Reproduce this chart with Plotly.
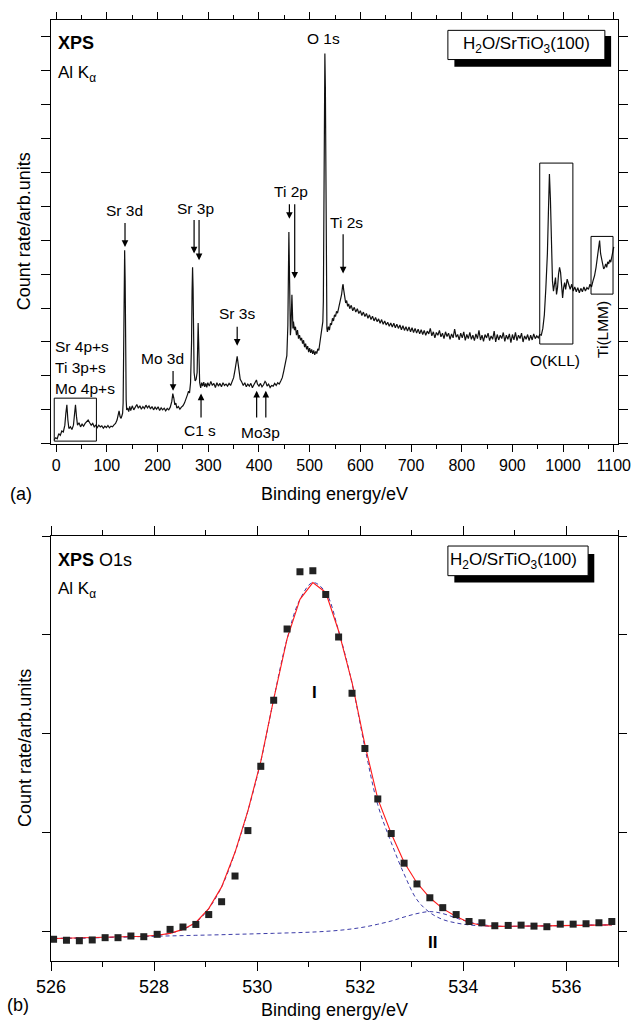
import plotly.graph_objects as go

# ---------------- Panel (a): XPS survey spectrum ----------------
energy_a = [
    -4, -1, 2, 5, 8, 11, 14, 17, 19, 21,
    23, 25, 28, 31, 34, 36, 38, 40, 42, 45,
    48, 51, 54, 57, 60, 63, 66, 69, 72, 75,
    78, 81, 84, 87, 90, 93, 96, 99, 102, 105,
    108, 111, 114, 117, 120, 122, 124, 126, 128, 130,
    131, 132, 133, 134, 135, 136, 137, 138, 139, 141,
    143, 145, 147, 150, 153, 156, 159, 162, 165, 168,
    171, 174, 177, 180, 183, 186, 189, 192, 195, 198,
    201, 204, 207, 210, 213, 216, 219, 222, 225, 228,
    230, 232, 234, 236, 238, 241, 244, 247, 250, 253,
    256, 259, 261, 263, 265, 267, 268, 269, 270, 271,
    272, 274, 276, 278, 279, 280, 281, 282, 283, 285,
    287, 289, 291, 293, 295, 297, 299, 302, 305, 308,
    311, 314, 317, 320, 323, 326, 329, 332, 335, 338,
    341, 344, 347, 350, 353, 355, 357, 359, 361, 363,
    366, 369, 372, 375, 378, 381, 384, 387, 390, 393,
    395, 397, 400, 403, 406, 409, 412, 414, 416, 419,
    422, 425, 428, 431, 434, 437, 440, 443, 446, 449,
    452, 455, 457, 458, 459, 460, 461, 462, 463, 464,
    465, 466, 467, 468, 470, 472, 474, 476, 478, 480,
    482, 484, 486, 488, 490, 492, 494, 496, 498, 500,
    502, 504, 506, 508, 510, 512, 514, 516, 518, 520,
    522, 524, 526, 527, 528, 529, 530, 531, 532, 533,
    534, 535, 537, 539, 541, 543, 545, 547, 549, 551,
    553, 555, 557, 559, 561, 563, 565, 566, 567, 569,
    571, 573, 575, 577, 579, 582, 585, 588, 591, 594,
    597, 600, 603, 606, 609, 612, 615, 618, 621, 624,
    627, 630, 633, 636, 639, 642, 645, 648, 651, 654,
    657, 660, 663, 666, 669, 672, 675, 678, 681, 684,
    687, 690, 693, 696, 699, 702, 705, 708, 711, 714,
    717, 720, 723, 726, 729, 732, 735, 738, 741, 744,
    747, 750, 753, 756, 759, 762, 765, 768, 771, 774,
    777, 780, 783, 786, 789, 792, 795, 798, 801, 804,
    807, 810, 813, 816, 819, 822, 825, 828, 831, 834,
    837, 840, 843, 846, 849, 852, 855, 858, 861, 864,
    867, 870, 873, 876, 879, 882, 885, 888, 891, 894,
    897, 900, 903, 906, 909, 912, 915, 918, 921, 924,
    927, 930, 933, 936, 939, 942, 945, 948, 951, 954,
    957, 960, 963, 966, 969, 971, 973, 975, 977, 979,
    981, 983, 985, 987, 989, 991, 993, 995, 997, 999,
    1001, 1003, 1005, 1008, 1011, 1014, 1017, 1020, 1023, 1026,
    1029, 1032, 1035, 1038, 1041, 1044, 1047, 1050, 1053, 1056,
    1059, 1062, 1065, 1068, 1070, 1072, 1074, 1076, 1078, 1080,
    1082, 1084, 1086, 1088, 1090, 1092, 1094, 1096, 1098, 1100,
]
count_a = [
    0.12, 0.18, 0.15, 0.30, 0.25, 0.38, 0.35, 0.55, 0.90, 1.15,
    0.70, 0.45, 0.50, 0.42, 0.55, 0.85, 1.15, 0.80, 0.55, 0.62,
    0.50, 0.58, 0.52, 0.60, 0.65, 0.70, 0.62, 0.55, 0.60, 0.50,
    0.55, 0.48, 0.55, 0.50, 0.53, 0.46, 0.52, 0.48, 0.54, 0.47,
    0.52, 0.50, 0.56, 0.60, 0.70, 0.85, 0.97, 0.80, 0.75, 0.85,
    0.90, 1.20, 2.50, 4.50, 5.70, 4.80, 2.20, 1.30, 1.00, 1.05,
    0.95, 1.10, 0.98, 1.12, 1.00, 1.08, 1.16, 1.05, 1.12, 1.02,
    1.10, 1.04, 1.14, 1.06, 1.12, 1.03, 1.10, 1.00, 1.08, 1.02,
    1.09, 0.98, 1.06, 1.00, 1.05, 0.97, 1.04, 1.00, 1.08, 1.25,
    1.48, 1.35, 1.15, 1.20, 1.05, 1.10, 1.02, 1.08, 1.12, 1.20,
    1.30, 1.45, 1.55, 1.50, 1.80, 3.00, 4.50, 5.20, 4.60, 3.00,
    2.10, 1.85, 1.90, 2.10, 3.00, 3.56, 3.00, 2.20, 1.80, 1.65,
    1.80, 1.70, 1.82, 1.68, 1.78, 1.66, 1.80, 1.70, 1.84, 1.72,
    1.78, 1.66, 1.80, 1.70, 1.78, 1.68, 1.80, 1.72, 1.76, 1.70,
    1.78, 1.72, 1.85, 1.95, 2.20, 2.45, 2.58, 2.35, 2.05, 1.90,
    1.82, 1.72, 1.80, 1.68, 1.76, 1.70, 1.78, 1.65, 1.74, 1.82,
    1.88, 1.76, 1.70, 1.78, 1.68, 1.74, 1.84, 1.80, 1.70, 1.76,
    1.66, 1.72, 1.70, 1.78, 1.72, 1.80, 1.76, 1.85, 1.95, 2.15,
    2.35, 2.60, 3.50, 5.50, 6.24, 5.20, 3.60, 3.20, 3.40, 4.00,
    4.39, 3.90, 3.40, 3.60, 3.35, 3.45, 3.20, 3.35, 3.10, 3.20,
    3.05, 3.12, 2.95, 3.05, 2.85, 2.95, 2.78, 2.88, 2.70, 2.82,
    2.68, 2.78, 2.65, 2.75, 2.62, 2.72, 2.66, 2.80, 2.75, 2.95,
    3.10, 3.30, 3.60, 4.20, 6.00, 9.50, 11.50, 10.50, 6.50, 4.20,
    3.40, 3.30, 3.45, 3.35, 3.55, 3.50, 3.70, 3.62, 3.80, 3.75,
    3.90, 3.85, 3.98, 4.05, 4.20, 4.40, 4.65, 4.70, 4.55, 4.35,
    4.15, 4.22, 4.05, 4.12, 3.98, 4.08, 3.92, 4.02, 3.88, 3.98,
    3.84, 3.92, 3.78, 3.88, 3.75, 3.84, 3.70, 3.80, 3.66, 3.76,
    3.62, 3.72, 3.60, 3.68, 3.55, 3.66, 3.52, 3.62, 3.50, 3.58,
    3.46, 3.56, 3.44, 3.55, 3.42, 3.52, 3.40, 3.50, 3.36, 3.48,
    3.34, 3.45, 3.32, 3.44, 3.30, 3.42, 3.28, 3.40, 3.26, 3.38,
    3.24, 3.36, 3.22, 3.34, 3.20, 3.32, 3.24, 3.40, 3.18, 3.30,
    3.12, 3.28, 3.20, 3.34, 3.15, 3.26, 3.10, 3.30, 3.16, 3.26,
    3.08, 3.24, 3.12, 3.38, 3.14, 3.22, 3.06, 3.26, 3.12, 3.30,
    3.05, 3.22, 3.10, 3.28, 3.08, 3.20, 3.04, 3.24, 3.10, 3.34,
    3.06, 3.20, 3.02, 3.22, 3.12, 3.26, 3.04, 3.18, 3.08, 3.32,
    3.00, 3.22, 3.06, 3.20, 3.10, 3.28, 3.02, 3.20, 3.08, 3.24,
    2.98, 3.22, 3.06, 3.28, 3.04, 3.20, 3.10, 3.26, 3.00, 3.18,
    3.08, 3.22, 3.04, 3.20, 3.06, 3.24, 3.10, 3.18, 3.12, 3.22,
    3.20, 3.40, 3.80, 4.60, 5.60, 6.80, 7.95, 7.20, 5.50, 4.80,
    4.50, 4.65, 4.90, 4.40, 4.60, 5.00, 5.20, 5.05, 4.70, 4.30,
    4.60, 4.75, 4.55, 4.85, 4.70, 4.55, 4.70, 4.50, 4.62, 4.48,
    4.60, 4.45, 4.58, 4.48, 4.62, 4.50, 4.60, 4.55, 4.70, 4.62,
    4.80, 4.95, 5.20, 5.50, 5.80, 5.99, 5.60, 5.40, 5.30, 5.15,
    5.20, 5.30, 5.20, 5.36, 5.30, 5.42, 5.35, 5.55, 5.65, 5.80,
]
xticks_a = [0, 100, 200, 300, 400, 500, 600, 700, 800, 900, 1000, 1100]

# ---------------- Panel (b): O1s detail ----------------
energy_b = [
    526.05, 526.30, 526.55, 526.80, 527.05, 527.30, 527.55, 527.80, 528.06, 528.31,
    528.56, 528.81, 529.06, 529.31, 529.57, 529.82, 530.07, 530.32, 530.58, 530.83,
    531.08, 531.33, 531.58, 531.84, 532.09, 532.34, 532.60, 532.85, 533.10, 533.35,
    533.60, 533.86, 534.11, 534.36, 534.61, 534.87, 535.12, 535.37, 535.62, 535.88,
    536.13, 536.38, 536.63, 536.88,
]
count_b = [
    -0.080, -0.090, -0.095, -0.087, -0.064, -0.064, -0.047, -0.054, -0.030, 0.020,
    0.044, 0.070, 0.170, 0.300, 0.560, 1.020, 1.670, 2.340, 3.060, 3.640,
    3.650, 3.410, 2.980, 2.410, 1.850, 1.340, 0.990, 0.690, 0.480, 0.340,
    0.240, 0.170, 0.100, 0.087, 0.057, 0.060, 0.063, 0.053, 0.047, 0.073,
    0.073, 0.077, 0.087, 0.100,
]
fit_b = [
    -0.073, -0.070, -0.068, -0.065, -0.062, -0.058, -0.055, -0.050, -0.040, -0.020,
    0.020, 0.090, 0.230, 0.450, 0.800, 1.220, 1.720, 2.350, 2.960, 3.360,
    3.530, 3.430, 3.040, 2.520, 1.890, 1.340, 0.990, 0.700, 0.490, 0.340,
    0.230, 0.150, 0.090, 0.060, 0.050, 0.050, 0.052, 0.054, 0.056, 0.058,
    0.060, 0.062, 0.064, 0.066,
]
peak1_b = [
    -0.073, -0.070, -0.068, -0.065, -0.062, -0.058, -0.055, -0.050, -0.040, -0.020,
    0.020, 0.090, 0.230, 0.450, 0.800, 1.220, 1.720, 2.350, 2.960, 3.360,
    3.530, 3.430, 3.040, 2.510, 1.860, 1.280, 0.900, 0.580, 0.320, 0.190,
    0.120, 0.085, 0.065, 0.056, 0.050, 0.050, 0.052, 0.054, 0.056, 0.058,
    0.060, 0.062, 0.064, 0.066,
]
peak2_b = [
    -0.073, -0.070, -0.068, -0.065, -0.062, -0.058, -0.055, -0.052, -0.049, -0.046,
    -0.043, -0.040, -0.037, -0.034, -0.030, -0.027, -0.023, -0.020, -0.016, -0.012,
    -0.007, 0.000, 0.010, 0.025, 0.045, 0.072, 0.105, 0.145, 0.180, 0.200,
    0.180, 0.135, 0.095, 0.068, 0.055, 0.050, 0.052, 0.054, 0.056, 0.058,
    0.060, 0.062, 0.064, 0.066,
]
xticks_b = [526, 528, 530, 532, 534, 536]

FONT = "Liberation Sans, Arial, Helvetica, sans-serif"
BLUE = "#3c3ca8"

fig = go.Figure()

fig.add_trace(go.Scatter(x=energy_a, y=count_a, mode="lines",
                         line=dict(color="#111111", width=1.2),
                         xaxis="x", yaxis="y", showlegend=False))

fig.add_trace(go.Scatter(x=energy_b, y=peak2_b, mode="lines",
                         line=dict(color=BLUE, width=1, dash="4px,3px", shape="spline"),
                         xaxis="x2", yaxis="y2", showlegend=False))
fig.add_trace(go.Scatter(x=energy_b, y=peak1_b, mode="lines",
                         line=dict(color=BLUE, width=1, dash="4px,3px", shape="spline"),
                         xaxis="x2", yaxis="y2", showlegend=False))
fig.add_trace(go.Scatter(x=energy_b, y=fit_b, mode="lines",
                         line=dict(color="#ff1a1a", width=1.1),
                         xaxis="x2", yaxis="y2", showlegend=False))
fig.add_trace(go.Scatter(x=energy_b, y=count_b, mode="markers",
                         marker=dict(symbol="square", size=7, color="#222222"),
                         xaxis="x2", yaxis="y2", showlegend=False))

axis_common = dict(showline=True, linecolor="black", linewidth=1.2, mirror="ticks",
                   ticks="outside", tickcolor="black", tickwidth=1.2,
                   showgrid=False, zeroline=False)

fig.update_layout(
    width=643, height=1024,
    margin=dict(l=51, r=18, t=13, b=63),
    paper_bgcolor="white", plot_bgcolor="white",
    font=dict(family=FONT, color="black"),
    xaxis=dict(domain=[0, 1], anchor="y", range=[-10.3, 1108.3],
               tickvals=xticks_a, ticklen=7, tickfont=dict(size=16),
               minor=dict(dtick=50, tick0=0, ticklen=4, ticks="outside",
                          tickcolor="black", tickwidth=1.2),
               **axis_common),
    yaxis=dict(domain=[0.5496, 1], anchor="x", range=[0, 12.485],
               dtick=1, tick0=0, ticklen=9, showticklabels=False, **axis_common),
    xaxis2=dict(domain=[0, 1], anchor="y2", range=[526, 537],
                tickvals=xticks_b, ticklen=9, tickfont=dict(size=18),
                minor=dict(dtick=1, tick0=526, ticklen=5, ticks="outside",
                           tickcolor="black", tickwidth=1.2),
                **axis_common),
    yaxis2=dict(domain=[0, 0.4515], anchor="x2", range=[-0.3, 4.0],
                dtick=1, tick0=0, ticklen=8, showticklabels=False, **axis_common),
)

shapes = []
# Boxes in panel (a)
for x0, x1, y0, y1 in [(-3.9, 79.3, 0.08, 1.345), (953.9, 1019.3, 2.94, 8.27),
                       (1055.1, 1098.5, 4.41, 6.11)]:
    shapes.append(dict(type="rect", xref="x", yref="y", x0=x0, x1=x1, y0=y0, y1=y1,
                       line=dict(color="black", width=1), fillcolor="rgba(0,0,0,0)"))
# Label boxes with shadow
shapes.append(dict(type="rect", xref="x", yref="y", x0=785.5, x1=1094.7, y0=11.11, y1=12.01,
                   line=dict(width=0), fillcolor="black", layer="above"))
shapes.append(dict(type="rect", xref="x", yref="y", x0=772.7, x1=1082.4, y0=11.32, y1=12.18,
                   line=dict(color="black", width=1), fillcolor="white", layer="above"))
shapes.append(dict(type="rect", xref="x2", yref="y2", x0=533.825, x1=536.54, y0=3.53, y1=3.82,
                   line=dict(width=0), fillcolor="black", layer="above"))
shapes.append(dict(type="rect", xref="x2", yref="y2", x0=533.70, x1=536.42, y0=3.60, y1=3.90,
                   line=dict(color="black", width=1), fillcolor="white", layer="above"))
fig.update_layout(shapes=shapes)

ann = []

def txt(x, y, s, size=15.5, xa="center", ref="", bold=False, angle=0):
    if bold:
        s = "<b>" + s + "</b>"
    ann.append(dict(x=x, y=y, xref="x" + ref, yref="y" + ref, text=s, showarrow=False,
                    xanchor=xa, yanchor="middle", textangle=angle,
                    font=dict(size=size, family=FONT, color="black")))

def arrow(x, y_tail, y_tip, ref=""):
    ann.append(dict(x=x, y=y_tip, ax=x, ay=y_tail, xref="x" + ref, yref="y" + ref,
                    axref="x" + ref, ayref="y" + ref, text="", showarrow=True,
                    arrowhead=2, arrowsize=1.1, arrowwidth=1.2, arrowcolor="black",
                    standoff=0, startstandoff=0, font=dict(size=10)))

# Panel (a) texts
ann.append(dict(x=0, y=11.81, xref="x", yref="y", text="<b>XPS</b>", showarrow=False,
                xanchor="left", yanchor="middle", font=dict(size=18, family=FONT)))
txt(0, 10.88, "Al K<sub>α</sub>", size=17, xa="left")
txt(927.6, 11.75, "H<sub>2</sub>O/SrTiO<sub>3</sub>(100)", size=17)
txt(527.8, 11.94, "O 1s")
txt(463.6, 7.44, "Ti 2p")
txt(572.6, 6.53, "Ti 2s")
txt(134.4, 6.87, "Sr 3d")
txt(274.0, 6.94, "Sr 3p")
txt(356.4, 3.83, "Sr 3s")
txt(209.0, 2.51, "Mo 3d")
txt(283.8, 0.39, "C1 s")
txt(403.8, 0.32, "Mo3p")
txt(-6.4, 2.86, "Sr 4p+s", xa="left")
txt(-6.4, 2.24, "Ti 3p+s", xa="left")
txt(-6.4, 1.64, "Mo 4p+s", xa="left")
txt(983.6, 2.46, "O(KLL)")
txt(1079.0, 3.36, "Ti(LMM)", angle=-90)

arrow(135.7, 6.55, 5.80)
arrow(272.0, 6.64, 5.61)
arrow(281.8, 6.64, 5.41)
arrow(460.0, 7.10, 6.63)
arrow(470.5, 7.10, 4.87)
arrow(566.0, 6.22, 5.02)
arrow(357.0, 3.49, 2.89)
arrow(230.5, 2.19, 1.56)
arrow(285.7, 0.73, 1.48)
arrow(395.4, 0.73, 1.56)
arrow(413.5, 0.73, 1.56)

# Panel (b) texts
ann.append(dict(x=526.1, y=3.76, xref="x2", yref="y2", text="<b>XPS</b> O1s", showarrow=False,
                xanchor="left", yanchor="middle", font=dict(size=18, family=FONT)))
txt(526.1, 3.45, "Al K<sub>α</sub>", size=17, xa="left", ref="2")
txt(534.98, 3.75, "H<sub>2</sub>O/SrTiO<sub>3</sub>(100)", size=17, ref="2")
txt(531.11, 2.42, "I", size=17, ref="2", bold=True)
txt(533.41, -0.11, "II", size=17, ref="2", bold=True)

# Axis titles and panel letters (paper coordinates)
for xf, yf, s, ang in [(0.5, 0.4968, "Binding energy/eV", 0),
                       (0.5, -0.0517, "Binding energy/eV", 0),
                       (-0.047, 0.7758, "Count rate/arb.units", -90),
                       (-0.047, 0.2268, "Count rate/arb.units", -90),
                       (-0.0523, 0.4968, "(a)", 0),
                       (-0.0575, -0.0464, "(b)", 0)]:
    ann.append(dict(x=xf, y=yf, xref="paper", yref="paper", text=s, showarrow=False,
                    xanchor="center", yanchor="middle", textangle=ang,
                    font=dict(size=18, family=FONT, color="black")))

fig.update_layout(annotations=ann)
fig.write_html("out.html",
               config={"displayModeBar": False},
               post_script="document.body.style.margin='0';"
                           "document.body.style.padding='0';"
                           "document.body.style.overflow='hidden';")
